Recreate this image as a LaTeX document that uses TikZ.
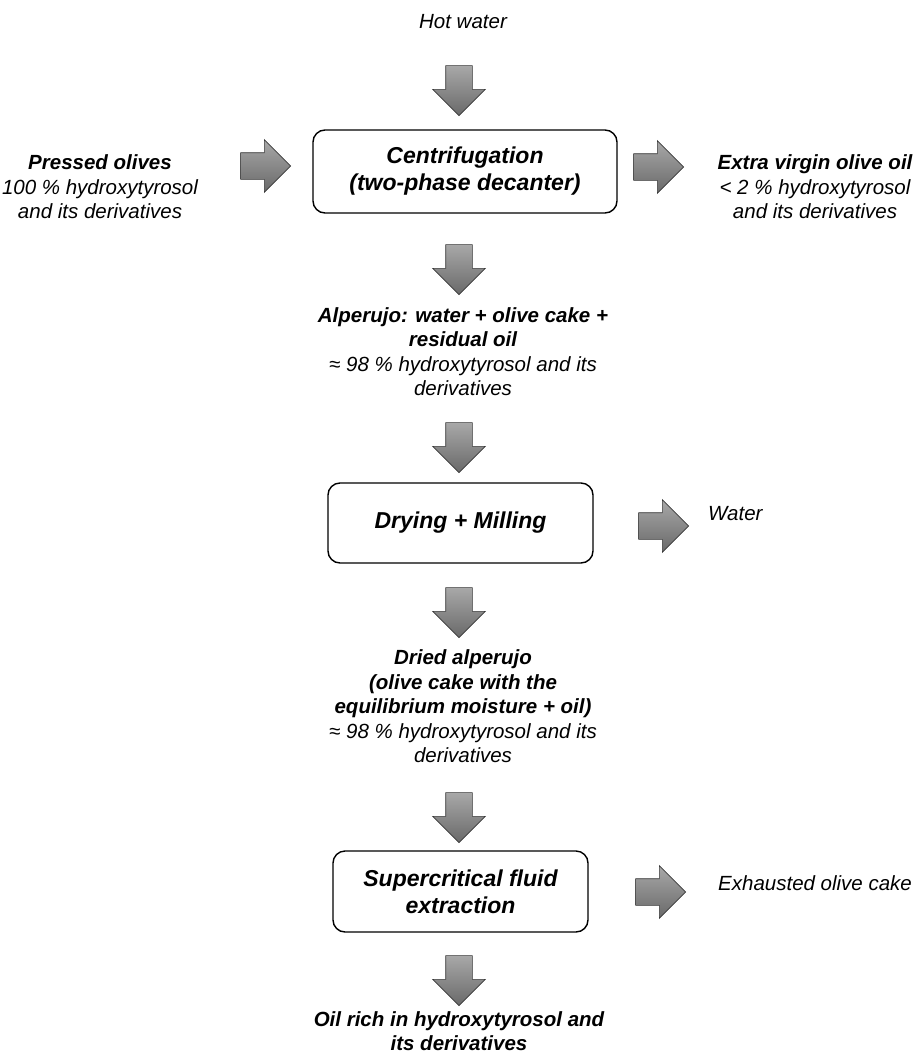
\documentclass[tikz,border=0pt]{standalone}
\usepackage{fontspec}
\setmainfont{Liberation Sans}
\definecolor{arrowlight}{RGB}{168,168,168}
\definecolor{arrowdark}{RGB}{105,105,105}
\definecolor{arrowedge}{RGB}{55,55,55}
\usetikzlibrary{shapes.arrows}
\tikzset{
  blockarrow/.style={single arrow, draw=arrowedge, line width=0.6pt,
    top color=arrowlight, bottom color=arrowdark,
    inner xsep=0pt, inner ysep=13pt, minimum height=50pt,
    single arrow head extend=13pt, single arrow head indent=0pt},
  downarrow/.style={blockarrow, shape border rotate=270, inner xsep=13pt, inner ysep=0pt},
  rightarrow/.style={blockarrow},
  procbox/.style={draw, rounded corners=12pt, line width=1.4pt, align=center,
    font=\fontsize{23}{27}\selectfont\bfseries\itshape},
  stream/.style={align=center, inner sep=0pt,
    font=\fontsize{20.5}{24.5}\selectfont\itshape},
}

\begin{document}
\begin{tikzpicture}[x=1pt, y=-1pt]
  \useasboundingbox (0,0) rectangle (921,1055);

  % decanter
  \node [stream] (hotwater) at (463,22) {Hot water};
  \node [downarrow] (aHot) at (459,84) {};
  \node [procbox, minimum width=304pt, minimum height=83pt] (centri) at (465,171.5)
    {Centrifugation\\(two-phase decanter)};
  \node [stream] (olives) at (100,187)
    {\textbf{Pressed olives}\\100 \% hydroxytyrosol\\and its derivatives};
  \node [rightarrow] (aIn) at (259,166) {};
  \node [rightarrow] (aOil) at (652,167) {};
  \node [stream] (evoo) at (815,187)
    {\textbf{Extra virgin olive oil}\\< 2 \% hydroxytyrosol\\and its derivatives};

  % drying
  \node [downarrow] (aAlp) at (459,263) {};
  \node [stream] (alperujo) at (463,351.5)
    {\textbf{Alperujo: water + olive cake +}\\\textbf{residual oil}\\≈ 98 \% hydroxytyrosol and its\\derivatives};
  \node [downarrow] (aDry) at (459,441) {};
  \node [procbox, minimum width=265pt, minimum height=80pt] (drying) at (460.5,523)
    {Drying + Milling};
  \node [rightarrow] (aWater) at (657,526) {};
  \node [stream, anchor=west] (water) at (708,514) {Water};

  % extraction
  \node [downarrow] (aDried) at (459,606) {};
  \node [stream] (dried) at (463,706.5)
    {\textbf{Dried alperujo}\\\textbf{(olive cake with the}\\\textbf{equilibrium moisture + oil)}\\≈ 98 \% hydroxytyrosol and its\\derivatives};
  \node [downarrow] (aSfe) at (459,811) {};
  \node [procbox, minimum width=255pt, minimum height=81pt] (sfe) at (460.5,891.5)
    {Supercritical fluid\\extraction};
  \node [rightarrow] (aCake) at (654,892) {};
  \node [stream, anchor=west] (cake) at (718,883) {Exhausted olive cake};
  \node [downarrow] (aRich) at (459,974) {};
  \node [stream] (rich) at (459,1031)
    {\textbf{Oil rich in hydroxytyrosol and}\\\textbf{its derivatives}};

\end{tikzpicture}
\end{document}
